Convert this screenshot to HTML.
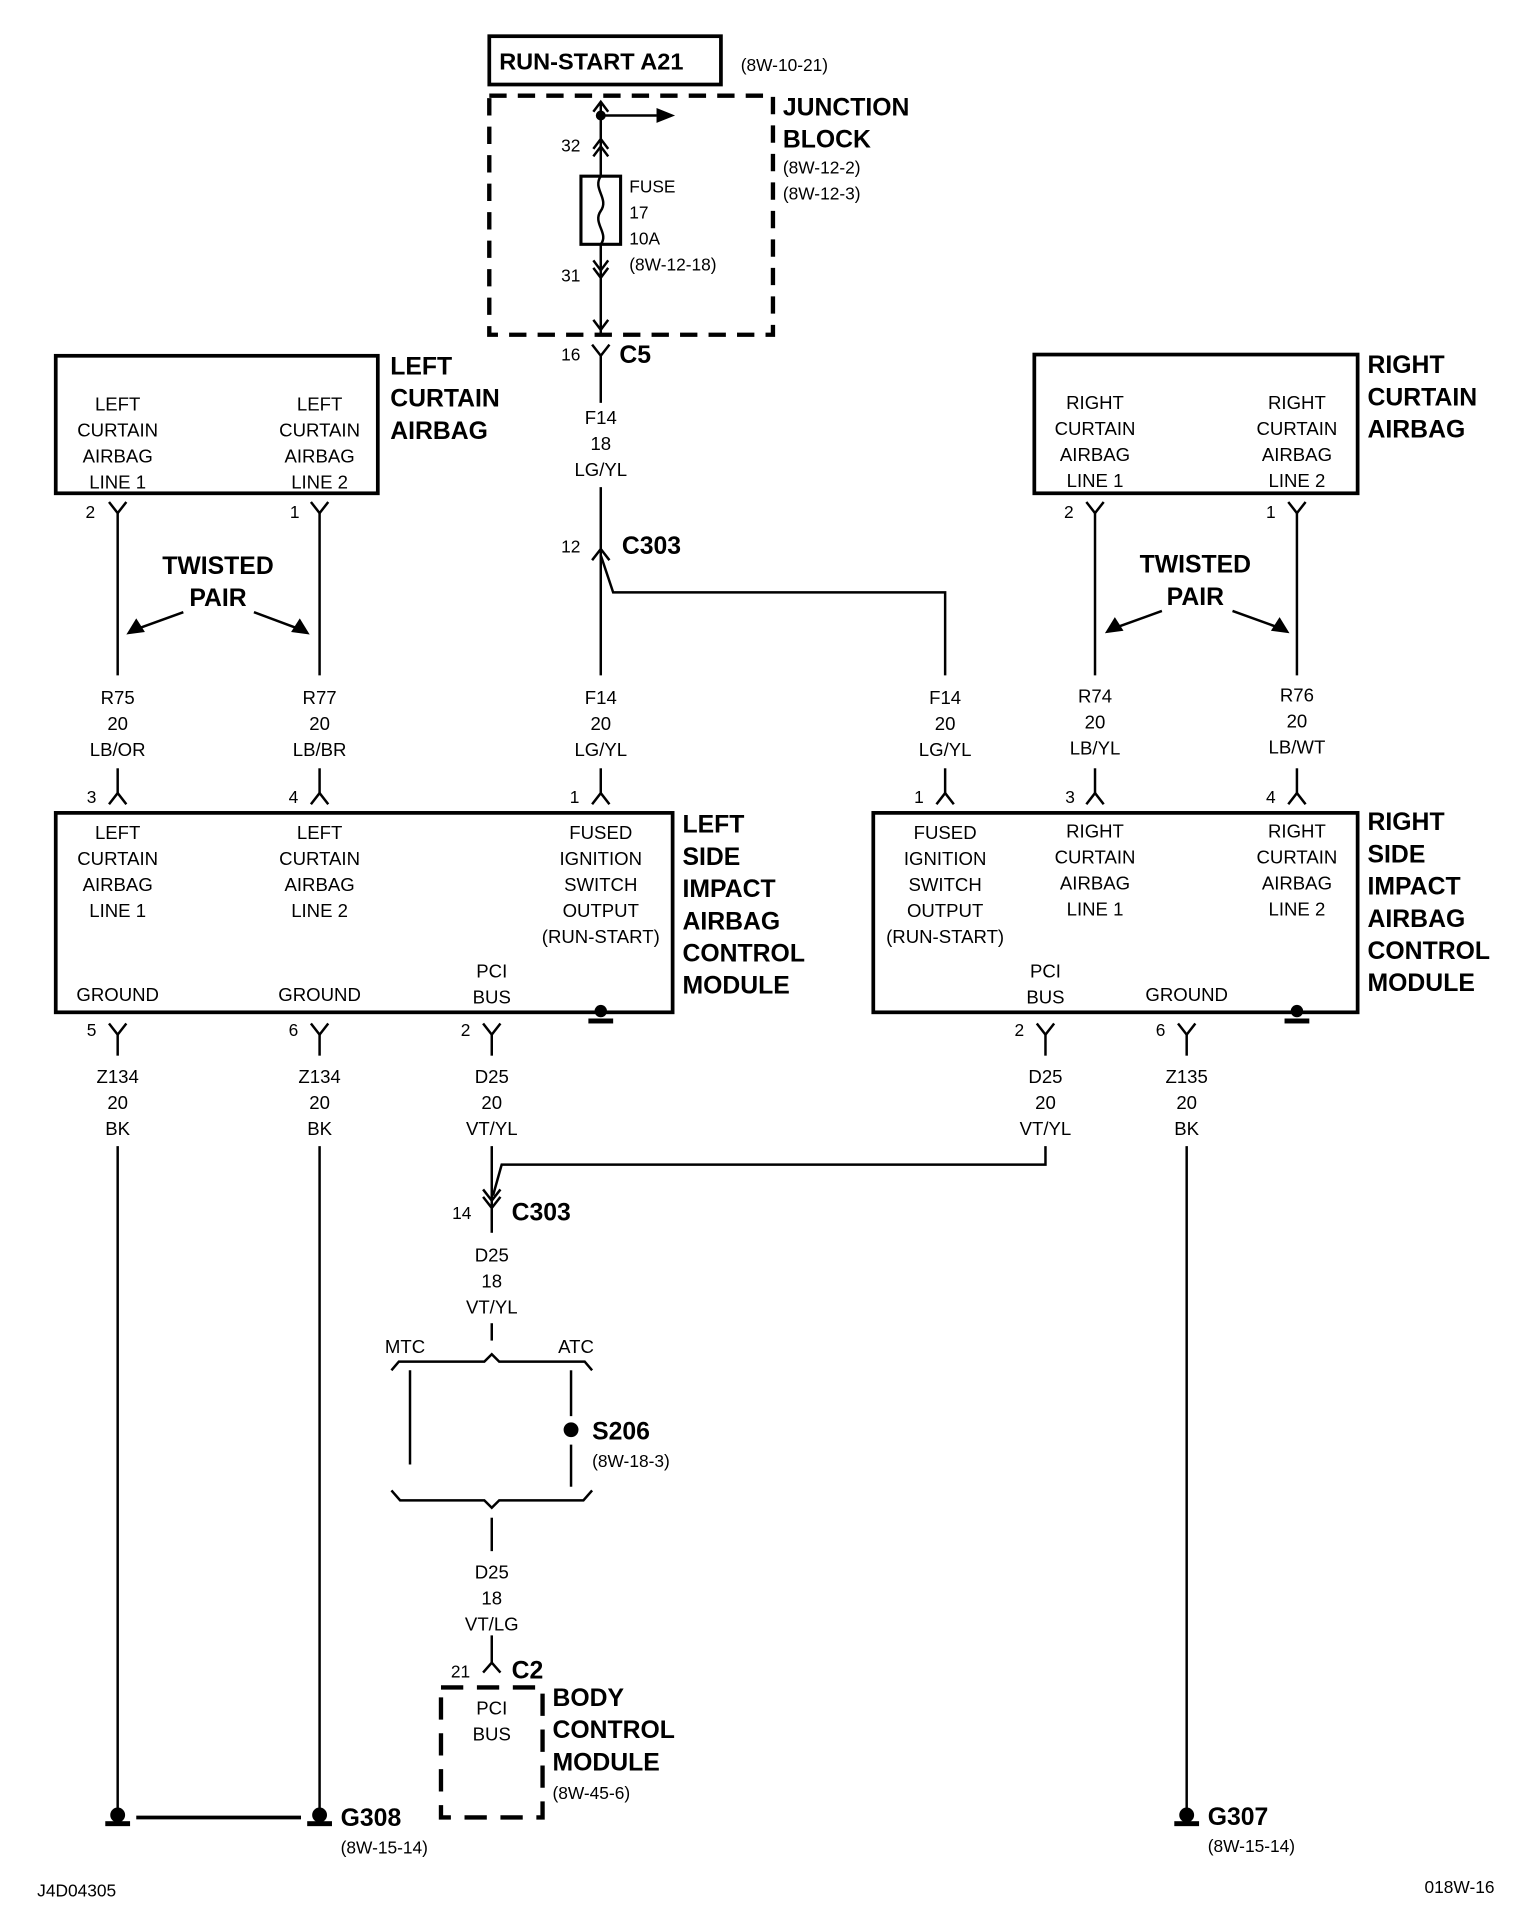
<!DOCTYPE html>
<html><head><meta charset="utf-8"><style>
html,body{margin:0;padding:0;background:#fff;}
svg{display:block;}
text{font-family:"Liberation Sans Narrow","Liberation Sans",sans-serif;fill:#000;}
.n{font-size:15px;text-anchor:middle;}
.l{font-size:15px;}
.b{font-size:20px;font-weight:bold;}
.s{font-size:14px;}
</style></head><body>
<svg width="1536" height="1928" viewBox="0 0 1240 1556" xmlns="http://www.w3.org/2000/svg">
<g fill="none" stroke="#000" stroke-width="2">
<!-- top box -->
<rect x="395" y="29" width="187" height="39" stroke-width="3"/>
<rect x="395" y="77" width="229" height="193" stroke-width="3.5" stroke-dasharray="14,9"/>
<!-- central wire -->
<line x1="485" y1="82" x2="485" y2="270"/>
<path d="M479 90 L485 82 L491 90"/>
<line x1="485" y1="93" x2="530" y2="93"/>
<path d="M485 112 L479 120 M485 112 L491 120 M485 118 L479 126 M485 118 L491 126"/>
<rect x="469" y="142" width="32" height="55" fill="#fff" stroke-width="2.5"/>
<path d="M485 142 C478 152,492 160,485 170 C478 180,492 188,485 197"/>
<path d="M479 210 L485 218 L491 210 M479 216 L485 224 L491 216"/>
<path d="M479 258 L485 266 L491 258"/>
<path d="M478 278 L485 287 L492 278"/>
<line x1="485" y1="287" x2="485" y2="325"/>
<line x1="485" y1="393" x2="485" y2="545"/>
<path d="M478 452 L485 443 L492 452"/>
<path d="M485 448 L495 478 L763 478 L763 545"/>
<line x1="485" y1="620" x2="485" y2="640"/>
<path d="M478 649 L485 640 L492 649"/>
<line x1="763" y1="620" x2="763" y2="640"/>
<path d="M756 649 L763 640 L770 649"/>
<!-- left curtain -->
<rect x="45" y="287" width="260" height="111" stroke-width="3"/>
<path d="M88 405 L95 414 L102 405 M251 405 L258 414 L265 405"/>
<line x1="95" y1="414" x2="95" y2="545"/>
<line x1="258" y1="414" x2="258" y2="545"/>
<line x1="148" y1="494" x2="112" y2="507"/>
<line x1="205" y1="494" x2="240" y2="507"/>
<line x1="95" y1="620" x2="95" y2="640"/><path d="M88 649 L95 640 L102 649"/>
<line x1="258" y1="620" x2="258" y2="640"/><path d="M251 649 L258 640 L265 649"/>
<!-- right curtain -->
<rect x="835" y="286" width="261" height="112" stroke-width="3"/>
<path d="M877 405 L884 414 L891 405 M1040 405 L1047 414 L1054 405"/>
<line x1="884" y1="414" x2="884" y2="545"/>
<line x1="1047" y1="414" x2="1047" y2="545"/>
<line x1="938" y1="493" x2="902" y2="506"/>
<line x1="995" y1="493" x2="1031" y2="506"/>
<line x1="884" y1="620" x2="884" y2="640"/><path d="M877 649 L884 640 L891 649"/>
<line x1="1047" y1="620" x2="1047" y2="640"/><path d="M1040 649 L1047 640 L1054 649"/>
<!-- modules -->
<rect x="45" y="656" width="498" height="161" stroke-width="3"/>
<rect x="705" y="656" width="391" height="161" stroke-width="3"/>
<path d="M88 826 L95 835 L102 826 M251 826 L258 835 L265 826 M390 826 L397 835 L404 826"/>
<line x1="95" y1="835" x2="95" y2="852"/><line x1="258" y1="835" x2="258" y2="852"/><line x1="397" y1="835" x2="397" y2="852"/>
<path d="M837 826 L844 835 L851 826 M951 826 L958 835 L965 826"/>
<line x1="844" y1="835" x2="844" y2="852"/><line x1="958" y1="835" x2="958" y2="852"/>
<line x1="95" y1="925" x2="95" y2="1460"/>
<line x1="258" y1="925" x2="258" y2="1460"/>
<line x1="958" y1="925" x2="958" y2="1460"/>
<line x1="110" y1="1467" x2="243" y2="1467" stroke-width="3"/>
<!-- D25 -->
<line x1="397" y1="925" x2="397" y2="985"/>
<path d="M844 925 L844 940 L405 940 L398 965"/>
<path d="M390 960 L397 969 L404 960 M390 966 L397 975 L404 966"/>
<line x1="397" y1="975" x2="397" y2="995"/>
<line x1="397" y1="1068" x2="397" y2="1082"/>
<path d="M316 1106 L322 1099 L391 1099 L397 1093 L403 1099 L472 1099 L478 1106"/>
<line x1="331" y1="1106" x2="331" y2="1182"/>
<line x1="461" y1="1106" x2="461" y2="1143"/>
<line x1="461" y1="1166" x2="461" y2="1200"/>
<path d="M316 1203 L323 1211 L391 1211 L397 1217 L403 1211 L471 1211 L478 1203"/>
<line x1="397" y1="1225" x2="397" y2="1252"/>
<line x1="397" y1="1320" x2="397" y2="1342"/>
<path d="M390 1350 L397 1342 L404 1350"/>
<rect x="356" y="1362" width="82" height="105" stroke-width="3.5" stroke-dasharray="18,11"/>
</g>
<g fill="#000" stroke="none">
<path d="M545 93 L530 87 L530 99 Z"/>
<circle cx="485" cy="93" r="4"/>
<path d="M102 512 L110 499 L117 510 Z"/>
<path d="M250 512 L235 510 L242 499 Z"/>
<path d="M892 511 L900 498 L907 509 Z"/>
<path d="M1041 511 L1026 509 L1033 498 Z"/>
<circle cx="461" cy="1154" r="6"/>
<circle cx="485" cy="816" r="5"/><rect x="475" y="822" width="20" height="4"/>
<circle cx="1047" cy="816" r="5"/><rect x="1037" y="822" width="20" height="4"/>
<circle cx="95" cy="1465" r="6"/><rect x="85" y="1470" width="20" height="4"/>
<circle cx="258" cy="1465" r="6"/><rect x="248" y="1470" width="20" height="4"/>
<circle cx="958" cy="1465" r="6"/><rect x="948" y="1470" width="20" height="4"/>
</g>
<text x="403" y="56" class="b" style="font-size:19px">RUN-START A21</text>
<text x="598" y="57" class="s">(8W-10-21)</text>
<text x="632" y="93" class="b">JUNCTION</text>
<text x="632" y="119" class="b">BLOCK</text>
<text x="632" y="140" class="s">(8W-12-2)</text>
<text x="632" y="161" class="s">(8W-12-3)</text>
<text x="453" y="122" class="s">32</text>
<text x="508" y="155" class="s">FUSE</text>
<text x="508" y="176" class="s">17</text>
<text x="508" y="197" class="s">10A</text>
<text x="508" y="218" class="s">(8W-12-18)</text>
<text x="453" y="227" class="s">31</text>
<text x="453" y="291" class="s">16</text>
<text x="500" y="293" class="b">C5</text>
<text x="485" y="342" class="n">F14</text><text x="485" y="363" class="n">18</text><text x="485" y="384" class="n">LG/YL</text>
<text x="453" y="446" class="s">12</text>
<text x="502" y="447" class="b">C303</text>
<text x="485" y="568" class="n">F14</text><text x="485" y="589" class="n">20</text><text x="485" y="610" class="n">LG/YL</text>
<text x="763" y="568" class="n">F14</text><text x="763" y="589" class="n">20</text><text x="763" y="610" class="n">LG/YL</text>
<text x="460" y="648" class="s">1</text><text x="738" y="648" class="s">1</text>
<!-- left curtain -->
<text x="95" y="331" class="n">LEFT</text><text x="95" y="352" class="n">CURTAIN</text><text x="95" y="373" class="n">AIRBAG</text><text x="95" y="394" class="n">LINE 1</text>
<text x="258" y="331" class="n">LEFT</text><text x="258" y="352" class="n">CURTAIN</text><text x="258" y="373" class="n">AIRBAG</text><text x="258" y="394" class="n">LINE 2</text>
<text x="315" y="302" class="b">LEFT</text><text x="315" y="328" class="b">CURTAIN</text><text x="315" y="354" class="b">AIRBAG</text>
<text x="69" y="418" class="s">2</text><text x="234" y="418" class="s">1</text>
<text x="176" y="463" class="b" text-anchor="middle">TWISTED</text><text x="176" y="489" class="b" text-anchor="middle">PAIR</text>
<text x="95" y="568" class="n">R75</text><text x="95" y="589" class="n">20</text><text x="95" y="610" class="n">LB/OR</text>
<text x="258" y="568" class="n">R77</text><text x="258" y="589" class="n">20</text><text x="258" y="610" class="n">LB/BR</text>
<text x="70" y="648" class="s">3</text><text x="233" y="648" class="s">4</text>
<!-- right curtain -->
<text x="884" y="330" class="n">RIGHT</text><text x="884" y="351" class="n">CURTAIN</text><text x="884" y="372" class="n">AIRBAG</text><text x="884" y="393" class="n">LINE 1</text>
<text x="1047" y="330" class="n">RIGHT</text><text x="1047" y="351" class="n">CURTAIN</text><text x="1047" y="372" class="n">AIRBAG</text><text x="1047" y="393" class="n">LINE 2</text>
<text x="1104" y="301" class="b">RIGHT</text><text x="1104" y="327" class="b">CURTAIN</text><text x="1104" y="353" class="b">AIRBAG</text>
<text x="859" y="418" class="s">2</text><text x="1022" y="418" class="s">1</text>
<text x="965" y="462" class="b" text-anchor="middle">TWISTED</text><text x="965" y="488" class="b" text-anchor="middle">PAIR</text>
<text x="884" y="567" class="n">R74</text><text x="884" y="588" class="n">20</text><text x="884" y="609" class="n">LB/YL</text>
<text x="1047" y="566" class="n">R76</text><text x="1047" y="587" class="n">20</text><text x="1047" y="608" class="n">LB/WT</text>
<text x="860" y="648" class="s">3</text><text x="1022" y="648" class="s">4</text>
<!-- left module -->
<text x="95" y="677" class="n">LEFT</text><text x="95" y="698" class="n">CURTAIN</text><text x="95" y="719" class="n">AIRBAG</text><text x="95" y="740" class="n">LINE 1</text>
<text x="258" y="677" class="n">LEFT</text><text x="258" y="698" class="n">CURTAIN</text><text x="258" y="719" class="n">AIRBAG</text><text x="258" y="740" class="n">LINE 2</text>
<text x="485" y="677" class="n">FUSED</text><text x="485" y="698" class="n">IGNITION</text><text x="485" y="719" class="n">SWITCH</text><text x="485" y="740" class="n">OUTPUT</text><text x="485" y="761" class="n">(RUN-START)</text>
<text x="95" y="808" class="n">GROUND</text><text x="258" y="808" class="n">GROUND</text>
<text x="397" y="789" class="n">PCI</text><text x="397" y="810" class="n">BUS</text>
<text x="551" y="672" class="b">LEFT</text><text x="551" y="698" class="b">SIDE</text><text x="551" y="724" class="b">IMPACT</text><text x="551" y="750" class="b">AIRBAG</text><text x="551" y="776" class="b">CONTROL</text><text x="551" y="802" class="b">MODULE</text>
<!-- right module -->
<text x="763" y="677" class="n">FUSED</text><text x="763" y="698" class="n">IGNITION</text><text x="763" y="719" class="n">SWITCH</text><text x="763" y="740" class="n">OUTPUT</text><text x="763" y="761" class="n">(RUN-START)</text>
<text x="884" y="676" class="n">RIGHT</text><text x="884" y="697" class="n">CURTAIN</text><text x="884" y="718" class="n">AIRBAG</text><text x="884" y="739" class="n">LINE 1</text>
<text x="1047" y="676" class="n">RIGHT</text><text x="1047" y="697" class="n">CURTAIN</text><text x="1047" y="718" class="n">AIRBAG</text><text x="1047" y="739" class="n">LINE 2</text>
<text x="844" y="789" class="n">PCI</text><text x="844" y="810" class="n">BUS</text>
<text x="958" y="808" class="n">GROUND</text>
<text x="1104" y="670" class="b">RIGHT</text><text x="1104" y="696" class="b">SIDE</text><text x="1104" y="722" class="b">IMPACT</text><text x="1104" y="748" class="b">AIRBAG</text><text x="1104" y="774" class="b">CONTROL</text><text x="1104" y="800" class="b">MODULE</text>
<!-- bottom labels -->
<text x="70" y="836" class="s">5</text><text x="233" y="836" class="s">6</text><text x="372" y="836" class="s">2</text>
<text x="819" y="836" class="s">2</text><text x="933" y="836" class="s">6</text>
<text x="95" y="874" class="n">Z134</text><text x="95" y="895" class="n">20</text><text x="95" y="916" class="n">BK</text>
<text x="258" y="874" class="n">Z134</text><text x="258" y="895" class="n">20</text><text x="258" y="916" class="n">BK</text>
<text x="397" y="874" class="n">D25</text><text x="397" y="895" class="n">20</text><text x="397" y="916" class="n">VT/YL</text>
<text x="844" y="874" class="n">D25</text><text x="844" y="895" class="n">20</text><text x="844" y="916" class="n">VT/YL</text>
<text x="958" y="874" class="n">Z135</text><text x="958" y="895" class="n">20</text><text x="958" y="916" class="n">BK</text>
<text x="365" y="984" class="s">14</text>
<text x="413" y="985" class="b">C303</text>
<text x="397" y="1018" class="n">D25</text><text x="397" y="1039" class="n">18</text><text x="397" y="1060" class="n">VT/YL</text>
<text x="327" y="1092" class="n">MTC</text><text x="465" y="1092" class="n">ATC</text>
<text x="478" y="1162" class="b">S206</text>
<text x="478" y="1184" class="s">(8W-18-3)</text>
<text x="397" y="1274" class="n">D25</text><text x="397" y="1295" class="n">18</text><text x="397" y="1316" class="n">VT/LG</text>
<text x="364" y="1354" class="s">21</text>
<text x="413" y="1355" class="b">C2</text>
<text x="397" y="1384" class="n">PCI</text><text x="397" y="1405" class="n">BUS</text>
<text x="446" y="1377" class="b">BODY</text><text x="446" y="1403" class="b">CONTROL</text><text x="446" y="1429" class="b">MODULE</text>
<text x="446" y="1452" class="s">(8W-45-6)</text>
<text x="275" y="1474" class="b">G308</text><text x="275" y="1496" class="s">(8W-15-14)</text>
<text x="975" y="1473" class="b">G307</text><text x="975" y="1495" class="s">(8W-15-14)</text>
<text x="30" y="1531" class="s">J4D04305</text>
<text x="1150" y="1528" class="s">018W-16</text>
</svg>
</body></html>
